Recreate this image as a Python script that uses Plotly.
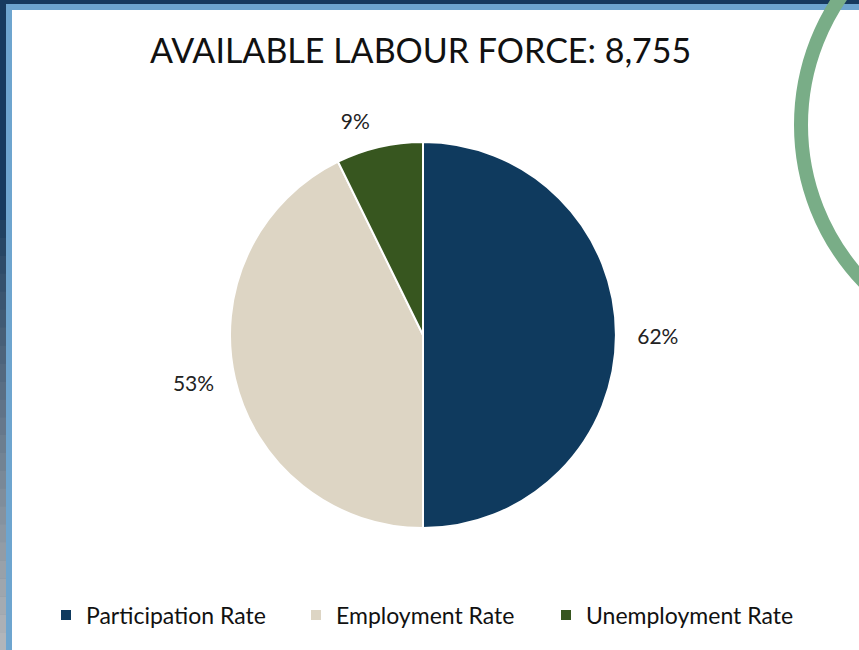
import plotly.graph_objects as go

W, H = 859, 650

categories = ["Participation Rate", "Employment Rate", "Unemployment Rate"]
values = [62, 53, 9]
label_texts = ["62%", "53%", "9%"]
colors = ["#0F3A5E", "#DDD5C4", "#37561F"]
title_text = "AVAILABLE LABOUR FORCE: 8,755"

FONT = "Lato, 'Open Sans', sans-serif"

def px_x(x):
    return x / W

def px_y(y):
    return (H - y) / H

cx, cy, r = 423, 335, 193
r_lab = r + 15

def dom(rad):
    return dict(x=[px_x(cx - rad), px_x(cx + rad)], y=[px_y(cy + rad), px_y(cy - rad)])

label_pie = go.Pie(
    labels=categories, values=values, text=label_texts,
    textinfo="text", textposition="outside",
    sort=False, direction="clockwise", rotation=0,
    marker=dict(colors=["rgba(0,0,0,0)"] * len(values), line=dict(width=0)),
    textfont=dict(family=FONT, size=21, color="#222222"),
    domain=dom(r_lab), showlegend=False, hoverinfo="skip",
)

main_pie = go.Pie(
    labels=categories, values=values,
    textinfo="none",
    sort=False, direction="clockwise", rotation=0,
    marker=dict(colors=colors, line=dict(color="white", width=2)),
    domain=dom(r),
    hoverinfo="label+value",
)

fig = go.Figure([label_pie, main_pie])

shapes = [
    dict(type="rect", xref="paper", yref="paper", x0=0, x1=1, y0=0, y1=1,
         fillcolor="#173A5E", line=dict(width=0), layer="below"),
]

# left outer strip fades from navy to grey towards the bottom
def lerp(c1, c2, t):
    return "#%02X%02X%02X" % tuple(int(round(a + (b - a) * t)) for a, b in zip(c1, c2))

top_c, bot_c = (0x1E, 0x3E, 0x5E), (0xB4, 0xB8, 0xBC)
n_bands = 24
y_start = 220
band_h = (H - y_start) / n_bands
for i in range(n_bands):
    y0 = y_start + i * band_h
    shapes.append(dict(type="rect", xref="paper", yref="paper",
                       x0=0, x1=px_x(6), y0=px_y(y0 + band_h + 0.5), y1=px_y(y0),
                       fillcolor=lerp(top_c, bot_c, (i + 0.5) / n_bands),
                       line=dict(width=0), layer="below"))

shapes += [
    dict(type="rect", xref="paper", yref="paper", x0=px_x(6), x1=1, y0=0, y1=px_y(4),
         fillcolor="#6EA5CF", line=dict(width=0), layer="below"),
    dict(type="rect", xref="paper", yref="paper", x0=px_x(12), x1=1, y0=0, y1=px_y(10),
         fillcolor="white", line=dict(width=0), layer="below"),
    dict(type="circle", xref="paper", yref="paper",
         x0=px_x(1028 - 227), x1=px_x(1028 + 227),
         y0=px_y(125 + 227), y1=px_y(125 - 227),
         line=dict(color="#79AD87", width=14), fillcolor="rgba(0,0,0,0)", layer="below"),
]

fig.update_layout(
    width=W, height=H,
    margin=dict(l=0, r=0, t=0, b=0),
    paper_bgcolor="white",
    plot_bgcolor="white",
    shapes=shapes,
    annotations=[dict(
        text=title_text, x=px_x(420), y=px_y(49), xref="paper", yref="paper",
        showarrow=False, xanchor="center", yanchor="middle",
        font=dict(family=FONT, size=34, color="#111111"),
    )],
    showlegend=True,
    legend=dict(
        orientation="h", x=px_x(421), y=px_y(615), xanchor="center", yanchor="middle",
        font=dict(family=FONT, size=23, color="#111111"),
        bgcolor="rgba(0,0,0,0)", itemwidth=30, entrywidth=205,
    ),
)

fig.write_html("out.html", config={"displayModeBar": False},
               post_script="document.body.style.margin='0';")
